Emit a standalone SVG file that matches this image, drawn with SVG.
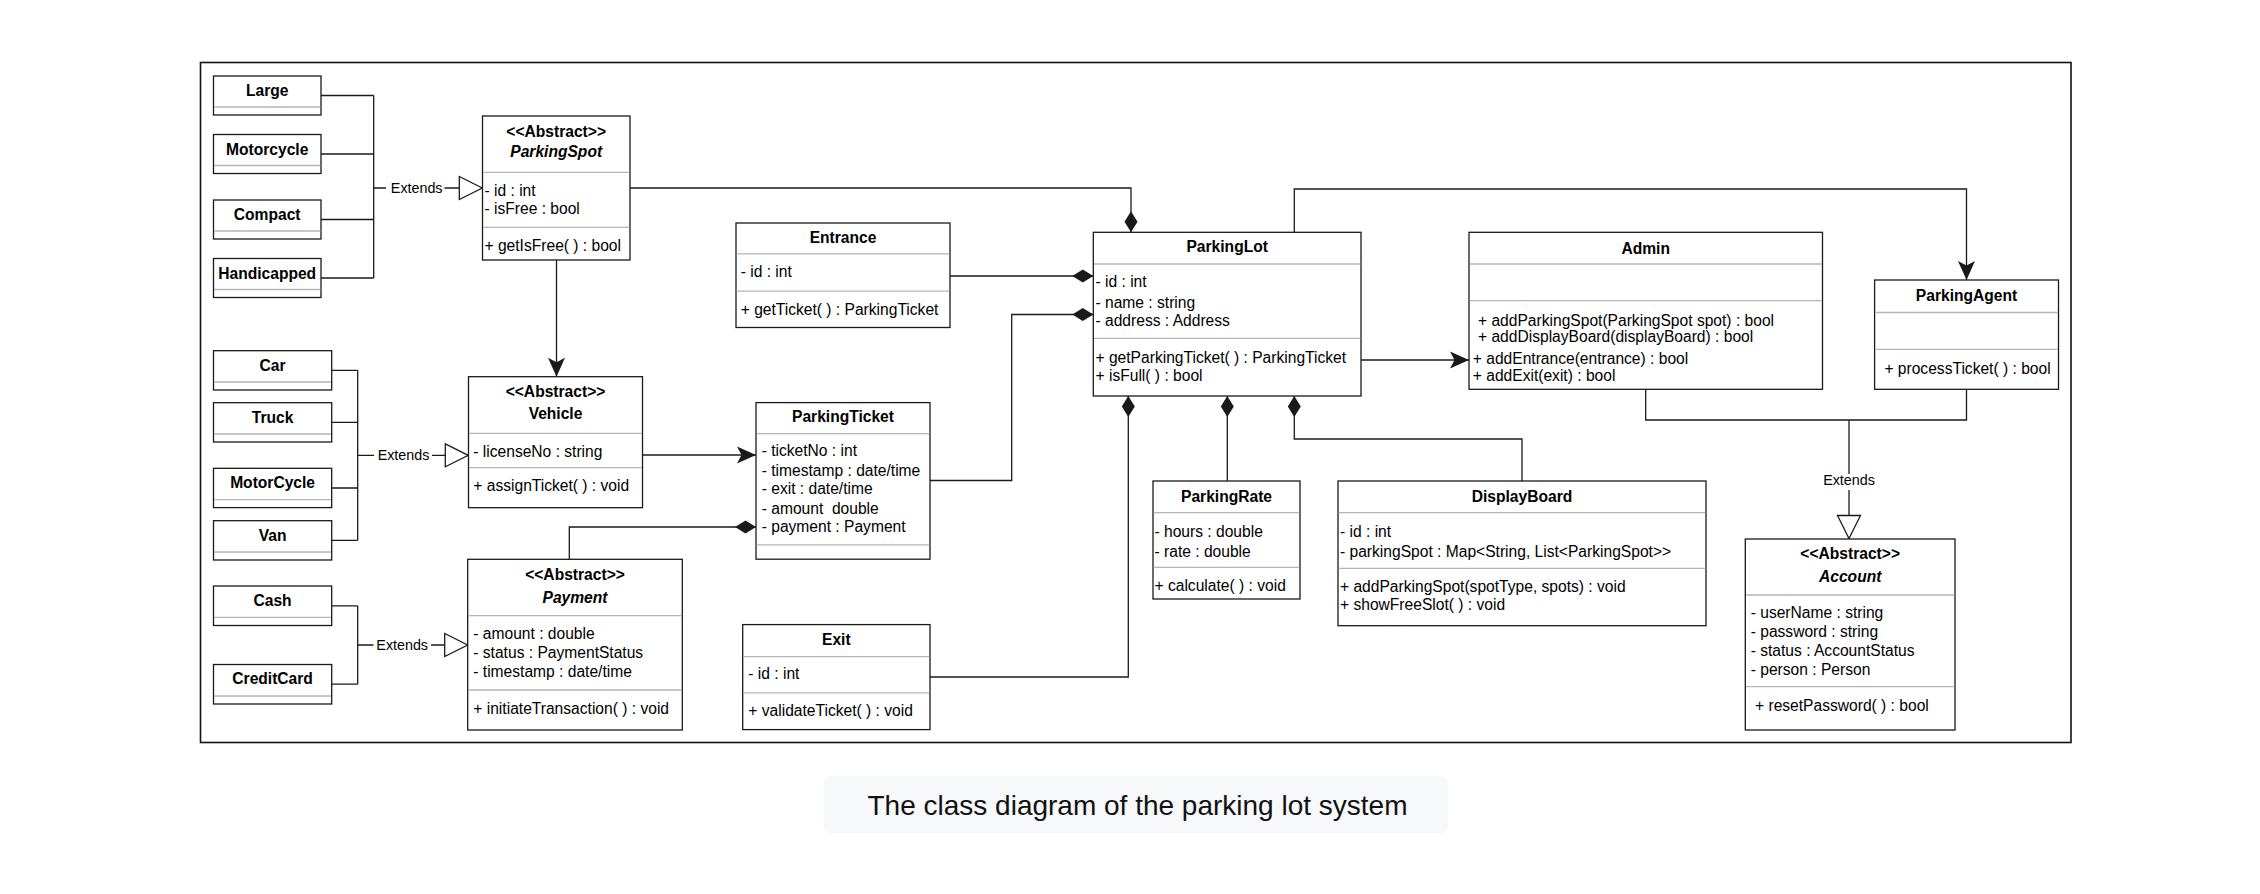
<svg xmlns="http://www.w3.org/2000/svg" width="2260" height="894" viewBox="0 0 2260 894">
  <style>
    .box { fill: #ffffff; stroke: #1a1a1a; stroke-width: 1.3; }
    .sep { stroke: #b5b5b5; stroke-width: 1.3; }
    .t { font-family: "Liberation Sans", Arial, Helvetica, sans-serif; font-size: 15.6px; fill: #000000; }
    .c { text-anchor: middle; }
    .b { font-weight: bold; }
    .i { font-style: italic; }
    .edge { fill: none; stroke: #1a1a1a; stroke-width: 1.3; }
    .lbl { font-family: "Liberation Sans", Arial, Helvetica, sans-serif; font-size: 14.3px; fill: #000000; text-anchor: middle; }
    .lblbg { fill: #ffffff; }
  </style>
  <defs>
    <!-- filled diamond: composition end -->
    <marker id="diamond" viewBox="-23 -8 24 16" refX="0" refY="0" markerWidth="24" markerHeight="16" markerUnits="userSpaceOnUse" orient="auto">
      <path d="M0,0 L-10.5,-6.5 L-21,0 L-10.5,6.5 Z" fill="#1a1a1a"/>
    </marker>
    <!-- classic filled arrow: association end -->
    <marker id="arrow" viewBox="-21 -10 22 20" refX="0" refY="0" markerWidth="22" markerHeight="20" markerUnits="userSpaceOnUse" orient="auto">
      <path d="M0,0 L-19,-8.5 L-14.5,0 L-19,8.5 Z" fill="#1a1a1a"/>
    </marker>
    <!-- hollow triangle: generalisation end -->
    <marker id="tri" viewBox="-25 -13 27 26" refX="0" refY="0" markerWidth="27" markerHeight="26" markerUnits="userSpaceOnUse" orient="auto">
      <path d="M0,0 L-23,-11.5 L-23,11.5 Z" fill="#ffffff" stroke="#1a1a1a" stroke-width="1.3"/>
    </marker>
  </defs>

  <rect x="0" y="0" width="2260" height="894" fill="#ffffff"/>

  <!-- outer frame -->
  <rect x="200.5" y="62.5" width="1870.5" height="680" fill="none" stroke="#111111" stroke-width="1.6"/>

  <!-- connectors -->
  <g id="connectors">
    <!-- spot subtypes to ParkingSpot -->
    <path class="edge" d="M321,95.5 H373.7 M321,154 H373.7 M321,219.5 H373.7 M321,278 H373.7 M373.7,95.5 V278"/>
    <path class="edge" d="M373.7,188 H482.3" marker-end="url(#tri)"/>
    <!-- vehicle subtypes to Vehicle -->
    <path class="edge" d="M331.7,370.3 H357.7 M331.7,422.3 H357.7 M331.7,488 H357.7 M331.7,540.3 H357.7 M357.7,370.3 V540.3"/>
    <path class="edge" d="M357.7,455.3 H468.3" marker-end="url(#tri)"/>
    <!-- payment subtypes to Payment -->
    <path class="edge" d="M331.7,605.8 H357.7 M331.7,684.2 H357.7 M357.7,605.8 V684.2"/>
    <path class="edge" d="M357.7,645 H467.7" marker-end="url(#tri)"/>
    <!-- ParkingSpot to Vehicle -->
    <path class="edge" d="M556.5,260 V376.7" marker-end="url(#arrow)"/>
    <!-- ParkingSpot to ParkingLot -->
    <path class="edge" d="M630,188 H1131 V232.3" marker-end="url(#diamond)"/>
    <!-- Vehicle to ParkingTicket -->
    <path class="edge" d="M642.7,455 H756" marker-end="url(#arrow)"/>
    <!-- Payment to ParkingTicket -->
    <path class="edge" d="M569.3,559.3 V527 H756" marker-end="url(#diamond)"/>
    <!-- Entrance to ParkingLot -->
    <path class="edge" d="M950,276 H1093.3" marker-end="url(#diamond)"/>
    <!-- ParkingTicket to ParkingLot -->
    <path class="edge" d="M930,480.5 H1011.7 V314.5 H1093.3" marker-end="url(#diamond)"/>
    <!-- Exit to ParkingLot -->
    <path class="edge" d="M930,677 H1128.3 V396" marker-end="url(#diamond)"/>
    <!-- ParkingRate to ParkingLot -->
    <path class="edge" d="M1227.3,481 V396" marker-end="url(#diamond)"/>
    <!-- DisplayBoard to ParkingLot -->
    <path class="edge" d="M1522,481 V439 H1294.3 V396" marker-end="url(#diamond)"/>
    <!-- ParkingLot to Admin -->
    <path class="edge" d="M1361,360 H1469" marker-end="url(#arrow)"/>
    <!-- ParkingLot to ParkingAgent -->
    <path class="edge" d="M1294.3,232.3 V189 H1966.5 V280" marker-end="url(#arrow)"/>
    <!-- Admin and ParkingAgent to Account -->
    <path class="edge" d="M1645.7,389.3 V420 H1966.5 V389.3"/>
    <path class="edge" d="M1849,420 V538.5" marker-end="url(#tri)"/>

    <!-- edge labels -->
    <rect class="lblbg" x="386" y="180" width="58.5" height="16"/>
    <text class="lbl" x="416.7" y="193.3">Extends</text>
    <rect class="lblbg" x="374" y="447" width="58" height="16"/>
    <text class="lbl" x="403.5" y="460.3">Extends</text>
    <rect class="lblbg" x="373.5" y="637" width="57.5" height="16"/>
    <text class="lbl" x="402.2" y="650">Extends</text>
    <rect class="lblbg" x="1820" y="474" width="58" height="16"/>
    <text class="lbl" x="1849" y="485">Extends</text>
  </g>

  <!-- parking spot subtypes -->
  <g id="large">
    <rect class="box" x="213.5" y="76" width="107.5" height="39"/>
    <line class="sep" x1="214.2" y1="107" x2="320.3" y2="107"/>
    <text class="t b c" x="267.2" y="96">Large</text>
  </g>
  <g id="motorcycle-spot">
    <rect class="box" x="213.5" y="134.5" width="107.5" height="39"/>
    <line class="sep" x1="214.2" y1="165.5" x2="320.3" y2="165.5"/>
    <text class="t b c" x="267.2" y="154.5">Motorcycle</text>
  </g>
  <g id="compact">
    <rect class="box" x="213.5" y="200" width="107.5" height="39"/>
    <line class="sep" x1="214.2" y1="231" x2="320.3" y2="231"/>
    <text class="t b c" x="267.2" y="220">Compact</text>
  </g>
  <g id="handicapped">
    <rect class="box" x="213.5" y="258.5" width="107.5" height="39"/>
    <line class="sep" x1="214.2" y1="289.5" x2="320.3" y2="289.5"/>
    <text class="t b c" x="267.2" y="278.5">Handicapped</text>
  </g>

  <!-- vehicle subtypes -->
  <g id="car">
    <rect class="box" x="213.5" y="350.7" width="118.2" height="39.3"/>
    <line class="sep" x1="214.2" y1="382" x2="331" y2="382"/>
    <text class="t b c" x="272.6" y="370.5">Car</text>
  </g>
  <g id="truck">
    <rect class="box" x="213.5" y="402.7" width="118.2" height="39.3"/>
    <line class="sep" x1="214.2" y1="434" x2="331" y2="434"/>
    <text class="t b c" x="272.6" y="422.5">Truck</text>
  </g>
  <g id="motorcycle-vehicle">
    <rect class="box" x="213.5" y="468.3" width="118.2" height="39.3"/>
    <line class="sep" x1="214.2" y1="499.6" x2="331" y2="499.6"/>
    <text class="t b c" x="272.6" y="488">MotorCycle</text>
  </g>
  <g id="van">
    <rect class="box" x="213.5" y="520.7" width="118.2" height="39.3"/>
    <line class="sep" x1="214.2" y1="552" x2="331" y2="552"/>
    <text class="t b c" x="272.6" y="540.5">Van</text>
  </g>

  <!-- payment subtypes -->
  <g id="cash">
    <rect class="box" x="213.5" y="586" width="118.2" height="39.5"/>
    <line class="sep" x1="214.2" y1="617.3" x2="331" y2="617.3"/>
    <text class="t b c" x="272.6" y="605.5">Cash</text>
  </g>
  <g id="creditcard">
    <rect class="box" x="213.5" y="664.5" width="118.2" height="39.5"/>
    <line class="sep" x1="214.2" y1="696" x2="331" y2="696"/>
    <text class="t b c" x="272.6" y="684.3">CreditCard</text>
  </g>

  <g id="parkingspot">
    <rect class="box" x="482.5" y="116" width="147.5" height="144"/>
    <line class="sep" x1="483.2" y1="172.3" x2="629.3" y2="172.3"/>
    <line class="sep" x1="483.2" y1="227.3" x2="629.3" y2="227.3"/>
    <text class="t b c" x="556.2" y="136.5">&lt;&lt;Abstract&gt;&gt;</text>
    <text class="t b i c" x="556.2" y="157.2">ParkingSpot</text>
    <text class="t" x="484.5" y="195.5">- id : int</text>
    <text class="t" x="484.5" y="213.8">- isFree : bool</text>
    <text class="t" x="484.5" y="250.5">+ getIsFree( ) : bool</text>
  </g>

  <g id="vehicle">
    <rect class="box" x="468.5" y="376.7" width="174" height="131"/>
    <line class="sep" x1="469.2" y1="433.3" x2="641.8" y2="433.3"/>
    <line class="sep" x1="469.2" y1="467.7" x2="641.8" y2="467.7"/>
    <text class="t b c" x="555.5" y="396.5">&lt;&lt;Abstract&gt;&gt;</text>
    <text class="t b c" x="555.5" y="418.8">Vehicle</text>
    <text class="t" x="473.3" y="456.5">- licenseNo : string</text>
    <text class="t" x="473.3" y="491.2">+ assignTicket( ) : void</text>
  </g>

  <g id="payment">
    <rect class="box" x="467.7" y="559.3" width="214.6" height="170.7"/>
    <line class="sep" x1="468.4" y1="615.7" x2="681.6" y2="615.7"/>
    <line class="sep" x1="468.4" y1="690" x2="681.6" y2="690"/>
    <text class="t b c" x="575" y="579.8">&lt;&lt;Abstract&gt;&gt;</text>
    <text class="t b i c" x="575" y="603.2">Payment</text>
    <text class="t" x="473.3" y="638.8">- amount : double</text>
    <text class="t" x="473.3" y="657.8">- status : PaymentStatus</text>
    <text class="t" x="473.3" y="677.2">- timestamp : date/time</text>
    <text class="t" x="473.3" y="713.8">+ initiateTransaction( ) : void</text>
  </g>

  <g id="entrance">
    <rect class="box" x="736" y="223" width="214" height="104.5"/>
    <line class="sep" x1="736.7" y1="253.9" x2="949.3" y2="253.9"/>
    <line class="sep" x1="736.7" y1="291.1" x2="949.3" y2="291.1"/>
    <text class="t b c" x="843" y="242.9">Entrance</text>
    <text class="t" x="740.7" y="277.3">- id : int</text>
    <text class="t" x="740.7" y="314.5">+ getTicket( ) : ParkingTicket</text>
  </g>

  <g id="parkingticket">
    <rect class="box" x="756" y="402.6" width="174" height="156.6"/>
    <line class="sep" x1="756.7" y1="433.6" x2="929.3" y2="433.6"/>
    <line class="sep" x1="756.7" y1="544.8" x2="929.3" y2="544.8"/>
    <text class="t b c" x="843" y="421.9">ParkingTicket</text>
    <text class="t" x="761.7" y="456.3">- ticketNo : int</text>
    <text class="t" x="761.7" y="476.3">- timestamp : date/time</text>
    <text class="t" x="761.7" y="494.2">- exit : date/time</text>
    <text class="t" x="761.7" y="514.1">- amount&#160; double</text>
    <text class="t" x="761.7" y="532">- payment : Payment</text>
  </g>

  <g id="exit">
    <rect class="box" x="742.7" y="624.6" width="187.3" height="105"/>
    <line class="sep" x1="743.4" y1="656.6" x2="929.3" y2="656.6"/>
    <line class="sep" x1="743.4" y1="692.8" x2="929.3" y2="692.8"/>
    <text class="t b c" x="836.3" y="644.6">Exit</text>
    <text class="t" x="748.3" y="679.4">- id : int</text>
    <text class="t" x="748.3" y="716.2">+ validateTicket( ) : void</text>
  </g>

  <g id="parkinglot">
    <rect class="box" x="1093.3" y="232.3" width="267.7" height="163.7"/>
    <line class="sep" x1="1094" y1="264" x2="1360.3" y2="264"/>
    <line class="sep" x1="1094" y1="338.3" x2="1360.3" y2="338.3"/>
    <text class="t b c" x="1227.2" y="252.2">ParkingLot</text>
    <text class="t" x="1095.5" y="287.2">- id : int</text>
    <text class="t" x="1095.5" y="308.2">- name : string</text>
    <text class="t" x="1095.5" y="325.5">- address : Address</text>
    <text class="t" x="1095.5" y="363.2">+ getParkingTicket( ) : ParkingTicket</text>
    <text class="t" x="1095.5" y="380.5">+ isFull( ) : bool</text>
  </g>

  <g id="admin">
    <rect class="box" x="1469" y="232.3" width="353.5" height="157"/>
    <line class="sep" x1="1469.7" y1="264" x2="1821.8" y2="264"/>
    <line class="sep" x1="1469.7" y1="300.7" x2="1821.8" y2="300.7"/>
    <text class="t b c" x="1645.7" y="253.8">Admin</text>
    <text class="t" x="1478" y="325.5">+ addParkingSpot(ParkingSpot spot) : bool</text>
    <text class="t" x="1478" y="342.2">+ addDisplayBoard(displayBoard) : bool</text>
    <text class="t" x="1472.8" y="363.8">+ addEntrance(entrance) : bool</text>
    <text class="t" x="1472.8" y="380.5">+ addExit(exit) : bool</text>
  </g>

  <g id="parkingagent">
    <rect class="box" x="1874.6" y="280" width="183.9" height="109.3"/>
    <line class="sep" x1="1875.3" y1="312.5" x2="2057.8" y2="312.5"/>
    <line class="sep" x1="1875.3" y1="349.3" x2="2057.8" y2="349.3"/>
    <text class="t b c" x="1966.5" y="300.5">ParkingAgent</text>
    <text class="t" x="1884.4" y="373.8">+ processTicket( ) : bool</text>
  </g>

  <g id="parkingrate">
    <rect class="box" x="1153" y="481" width="147" height="118"/>
    <line class="sep" x1="1153.7" y1="512.7" x2="1299.3" y2="512.7"/>
    <line class="sep" x1="1153.7" y1="567.3" x2="1299.3" y2="567.3"/>
    <text class="t b c" x="1226.5" y="502.2">ParkingRate</text>
    <text class="t" x="1154.5" y="536.5">- hours : double</text>
    <text class="t" x="1154.5" y="556.5">- rate : double</text>
    <text class="t" x="1154.5" y="591.2">+ calculate( ) : void</text>
  </g>

  <g id="displayboard">
    <rect class="box" x="1338" y="481" width="368" height="144.7"/>
    <line class="sep" x1="1338.7" y1="512.7" x2="1705.3" y2="512.7"/>
    <line class="sep" x1="1338.7" y1="568.3" x2="1705.3" y2="568.3"/>
    <text class="t b c" x="1522" y="502.2">DisplayBoard</text>
    <text class="t" x="1340" y="536.5">- id : int</text>
    <text class="t" x="1340" y="556.5">- parkingSpot : Map&lt;String, List&lt;ParkingSpot&gt;&gt;</text>
    <text class="t" x="1340" y="592.2">+ addParkingSpot(spotType, spots) : void</text>
    <text class="t" x="1340" y="609.8">+ showFreeSlot( ) : void</text>
  </g>

  <g id="account">
    <rect class="box" x="1745.3" y="539" width="209.7" height="191"/>
    <line class="sep" x1="1746" y1="595" x2="1954.3" y2="595"/>
    <line class="sep" x1="1746" y1="686.7" x2="1954.3" y2="686.7"/>
    <text class="t b c" x="1850.2" y="558.8">&lt;&lt;Abstract&gt;&gt;</text>
    <text class="t b i c" x="1850.2" y="582.2">Account</text>
    <text class="t" x="1750.7" y="618.2">- userName : string</text>
    <text class="t" x="1750.7" y="637.2">- password : string</text>
    <text class="t" x="1750.7" y="656.2">- status : AccountStatus</text>
    <text class="t" x="1750.7" y="674.8">- person : Person</text>
    <text class="t" x="1755" y="710.5">+ resetPassword( ) : bool</text>
  </g>

  <!-- caption -->
  <g id="caption">
    <rect x="823.5" y="776" width="624.5" height="57" rx="7" fill="#f7f8fa"/>
    <text x="1137.5" y="815" font-family="'Liberation Sans', Arial, Helvetica, sans-serif" font-size="28" fill="#111111" text-anchor="middle">The class diagram of the parking lot system</text>
  </g>
</svg>
